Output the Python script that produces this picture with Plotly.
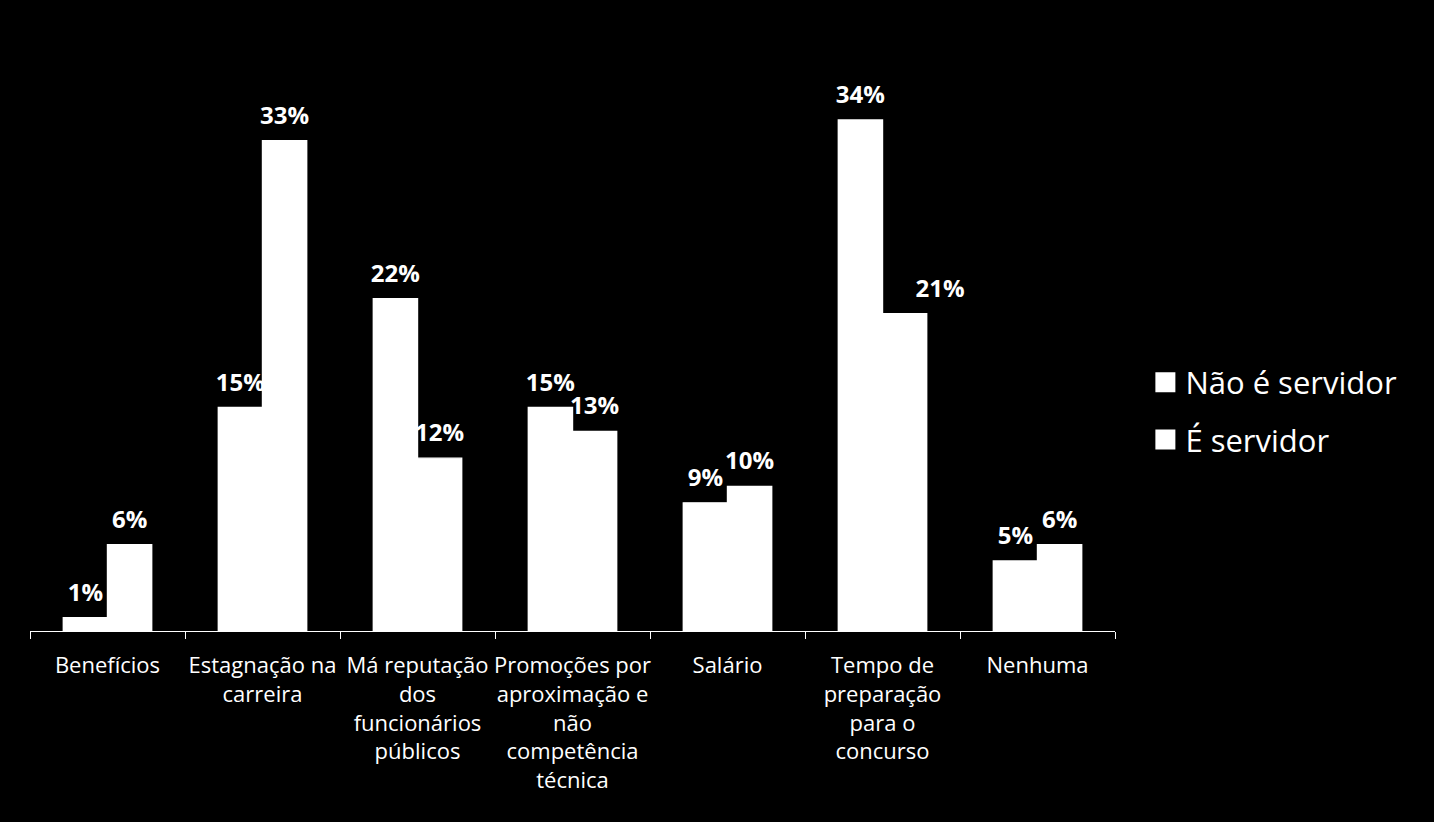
import plotly.graph_objects as go

categories = [
    "Benefícios",
    "Estagnação na<br>carreira",
    "Má reputação<br>dos<br>funcionários<br>públicos",
    "Promoções por<br>aproximação e<br>não<br>competência<br>técnica",
    "Salário",
    "Tempo de<br>preparação<br>para o<br>concurso",
    "Nenhuma",
]
nao_servidor = [0.9, 15.0, 22.3, 15.0, 8.6, 34.3, 4.7]
e_servidor = [5.8, 32.9, 11.6, 13.4, 9.7, 21.3, 5.8]
nao_labels = ["1%", "15%", "22%", "15%", "9%", "34%", "5%"]
e_labels = ["6%", "33%", "12%", "13%", "10%", "21%", "6%"]
nao_label_pos = ["top center"] * 7
e_label_pos = ["top center"] * 5 + ["top right", "top center"]

FONT = "Open Sans"
fig = go.Figure()
series = [("Não é servidor", nao_servidor, nao_labels, nao_label_pos, "a"),
          ("É servidor", e_servidor, e_labels, e_label_pos, "b")]
for name, vals, labels, pos, grp in series:
    fig.add_trace(go.Bar(
        x=categories, y=vals, name=name,
        marker=dict(color="white", line=dict(width=1.4, color="white")),
        offsetgroup=grp, showlegend=False,
    ))
for name, vals, labels, pos, grp in series:
    fig.add_trace(go.Scatter(
        x=categories, y=vals, name=name, text=labels, mode="markers+text",
        textposition=pos, cliponaxis=False,
        textfont=dict(family=FONT, size=24, color="white", weight="bold"),
        marker=dict(size=16, opacity=0, color="white"),
        offsetgroup=grp, showlegend=False, hoverinfo="skip",
    ))
for name, vals, labels, pos, grp in series:
    fig.add_trace(go.Scatter(
        x=[None], y=[None], name=name, mode="markers",
        marker=dict(symbol="square", size=16, color="white",
                    line=dict(width=4, color="white")),
        legendgroup=grp, showlegend=True,
    ))

fig.update_layout(
    width=1434, height=822,
    paper_bgcolor="black", plot_bgcolor="black",
    margin=dict(l=30, r=319, t=35, b=191, autoexpand=False),
    barmode="group", bargap=0.43, bargroupgap=0,
    scattermode="group", scattergap=0.43,
    font=dict(family=FONT, color="white"),
    showlegend=True,
    legend=dict(x=1.028, y=0.369, xanchor="left", yanchor="middle",
                font=dict(family=FONT, size=31, color="white"),
                tracegroupgap=14, traceorder="grouped", itemwidth=30,
                bgcolor="rgba(0,0,0,0)"),
    xaxis=dict(showline=True, linecolor="white", linewidth=1,
               ticks="outside", ticklen=7, tickcolor="white", tickson="boundaries",
               tickfont=dict(family=FONT, size=22, color="white"),
               tickangle=0, automargin=False,
               ticklabelstandoff=15,
               showgrid=False, zeroline=False),
    yaxis=dict(range=[0, 40], visible=False, showgrid=False, zeroline=False),
)
fig.write_html("out.html", config={"displayModeBar": False},
               post_script="document.body.style.margin='0';document.body.style.background='black';")
